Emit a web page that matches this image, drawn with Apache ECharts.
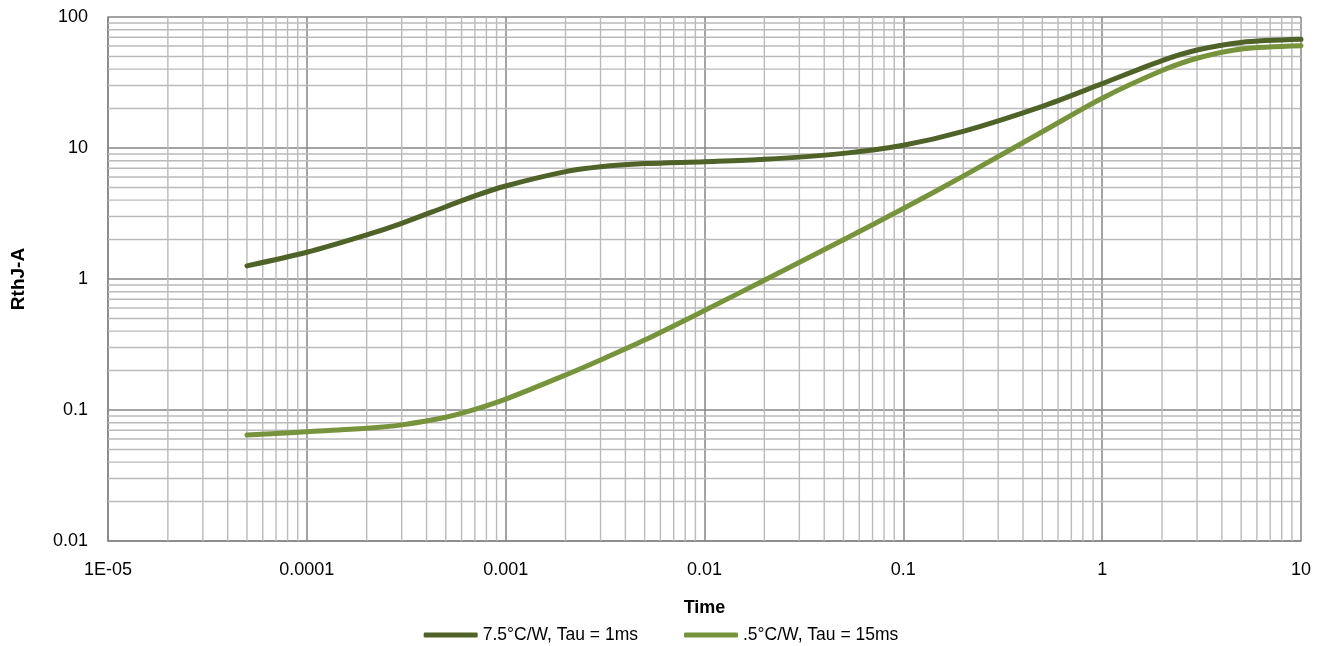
<!DOCTYPE html>
<html>
<head>
<meta charset="utf-8">
<script src="https://cdn.jsdelivr.net/npm/echarts@6/dist/echarts.min.js"></script>
<style>html,body{margin:0;padding:0;background:#fff}#c{width:1322px;height:646px}</style>
</head>
<body>
<div id="c"></div>
<script>
var times = [5e-5, 1e-4, 2e-4, 3e-4, 5e-4, 7e-4, 1e-3, 2e-3, 3e-3, 5e-3, 1e-2, 2e-2, 5e-2, 0.1, 0.2, 0.5, 1, 2, 3, 5, 10];
var seriesNames = ['7.5°C/W, Tau = 1ms', '.5°C/W, Tau = 15ms'];
var dark = [1.26, 1.6, 2.17, 2.66, 3.56, 4.31, 5.13, 6.6, 7.2, 7.6, 7.86, 8.2, 9.1, 10.5, 13.4, 20.8, 31, 46.5, 56, 64, 67.5];
var light = [0.0644, 0.0683, 0.0725, 0.077, 0.088, 0.101, 0.121, 0.185, 0.241, 0.342, 0.575, 0.98, 1.99, 3.45, 6.1, 13.3, 24, 39, 48.4, 57, 60.4];
var xTickLabels = ['1E-05', '0.0001', '0.001', '0.01', '0.1', '1', '10'];
var yTickLabels = ['0.01', '0.1', '1', '10', '100'];
var xDecades = [1e-5, 1e-4, 1e-3, 1e-2, 1e-1, 1];
var yDecades = [0.01, 0.1, 1, 10];
var xMin = 1e-5, xMax = 10, yMin = 0.01, yMax = 100;

function pair(a) { return times.map(function (t, i) { return [t, a[i]]; }); }

var gridSeries = [];
function gridLine(pts) {
  gridSeries.push({
    type: 'line', data: pts, silent: true, z: 1, showSymbol: false, symbol: 'none',
    lineStyle: { color: '#bababa', width: 1.4 }, emphasis: { disabled: true }, tooltip: { show: false }
  });
}
xDecades.forEach(function (d) {
  for (var k = 2; k <= 9; k++) { var v = d * k; gridLine([[v, yMin], [v, yMax]]); }
});
yDecades.forEach(function (d) {
  for (var k = 2; k <= 9; k++) { var v = d * k; gridLine([[xMin, v], [xMax, v]]); }
});

var font = 'Liberation Sans';
var chart = echarts.init(document.getElementById('c'), null, { renderer: 'canvas' });
chart.setOption({
  animation: false,
  backgroundColor: '#fff',
  grid: { left: 108, right: 21, top: 17, bottom: 105, containLabel: false },
  xAxis: {
    type: 'log', logBase: 10, min: xMin, max: xMax, interval: 1,
    name: 'Time', nameLocation: 'middle', nameGap: 58,
    nameTextStyle: { fontFamily: font, fontSize: 18, fontWeight: 'bold', color: '#000' },
    axisLine: { show: true, lineStyle: { color: '#868686', width: 1.5 } },
    axisTick: { show: false },
    axisLabel: {
      fontFamily: font, fontSize: 18, color: '#000', margin: 20,
      formatter: function (v) { return xTickLabels[Math.round(Math.log10(v)) + 5]; }
    },
    splitLine: { show: true, lineStyle: { color: '#868686', width: 1.5 } }
  },
  yAxis: {
    type: 'log', logBase: 10, min: yMin, max: yMax, interval: 1,
    name: 'RthJ-A', nameLocation: 'middle', nameGap: 80, nameRotate: 90,
    nameTextStyle: { fontFamily: font, fontSize: 19, fontWeight: 'bold', color: '#000' },
    axisLine: { show: true, lineStyle: { color: '#868686', width: 1.5 } },
    axisTick: { show: false },
    axisLabel: {
      fontFamily: font, fontSize: 18, color: '#000', margin: 20,
      formatter: function (v) { return yTickLabels[Math.round(Math.log10(v)) + 2]; }
    },
    splitLine: { show: true, lineStyle: { color: '#868686', width: 1.5 } }
  },
  legend: {
    data: seriesNames,
    top: 621, left: 'center',
    icon: 'roundRect', itemWidth: 54, itemHeight: 5, itemGap: 46,
    textStyle: { fontFamily: font, fontSize: 17.5, color: '#000' }
  },
  series: gridSeries.concat([
    {
      name: seriesNames[0], type: 'line', data: pair(dark), smooth: 0.3,
      showSymbol: false, z: 3,
      lineStyle: { color: '#4F6228', width: 5, cap: 'round', join: 'round' }, itemStyle: { color: '#4F6228' }
    },
    {
      name: seriesNames[1], type: 'line', data: pair(light), smooth: 0.3,
      showSymbol: false, z: 3,
      lineStyle: { color: '#77933C', width: 5, cap: 'round', join: 'round' }, itemStyle: { color: '#77933C' }
    }
  ])
});
</script>
</body>
</html>
